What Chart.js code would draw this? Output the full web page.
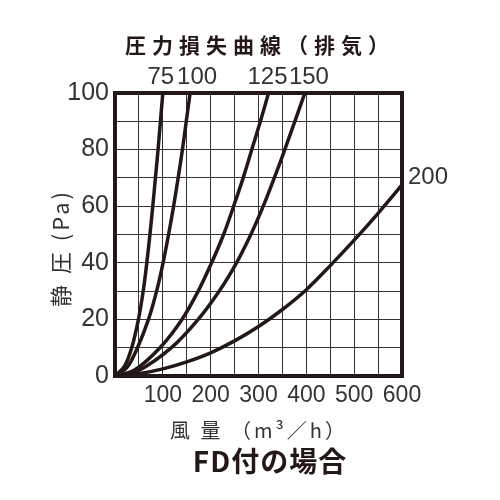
<!DOCTYPE html>
<html>
<head>
<meta charset="utf-8">
<script src="https://cdn.jsdelivr.net/npm/chart.js@4/dist/chart.umd.min.js"></script>
<style>
  html, body { margin: 0; padding: 0; background: #fff; }
  #wrap { width: 500px; height: 500px; }
</style>
</head>
<body>
<div id="wrap"><canvas id="myChart" width="500" height="500"></canvas></div>
<script>
// duct sizes (curve labels)
const ductSizes = ['75', '100', '125', '150', '200'];

// flow (m3/h) / static pressure (Pa)
const flow75  = [0, 20, 35, 49, 59, 66.5, 73, 79, 84.5, 90, 95, 100];
const pres75  = [0, 3.5, 10, 20, 30, 40, 50, 60, 70, 80, 90, 100];
const flow100 = [0, 25, 47, 70, 87, 100.5, 112, 122.5, 132, 141, 149, 157];
const pres100 = [0, 3, 10, 20, 30, 40, 50, 60, 70, 80, 90, 100];
const flow125 = [0, 40, 94, 140, 174, 202, 227, 248, 268, 286, 304, 321];
const pres125 = [0, 2, 10, 20, 30, 40, 50, 60, 70, 80, 90, 100];
const flow150 = [0, 50, 118, 174, 218, 254, 284, 310, 333, 355, 376, 397];
const pres150 = [0, 2, 10, 20, 30, 40, 50, 60, 70, 80, 90, 100];
const flow200 = [0, 50, 100, 150, 200, 250, 300, 350, 400, 450, 500, 550, 600];
const pres200 = [0, 0.8, 2.5, 5, 8.2, 12.4, 17.5, 23.5, 30.5, 39, 48, 57.5, 67.5];

const xTicks = [100, 200, 300, 400, 500, 600];
const yTicks = [0, 20, 40, 60, 80, 100];

const ink = '#231815';
const numFont = '"Liberation Sans", Arial, sans-serif';
const jpFont = '"Noto Sans CJK JP", sans-serif';

function pts(xs, ys) {
  return xs.map((x, i) => ({ x: x, y: ys[i] }));
}

const series = [
  pts(flow75, pres75),
  pts(flow100, pres100),
  pts(flow125, pres125),
  pts(flow150, pres150),
  pts(flow200, pres200)
];

// label placement relative to each curve's last point
const labelOffsets = [
  { dx: -2, dy: -16, align: 'center' },
  { dx: 7, dy: -16, align: 'center' },
  { dx: -1, dy: -16, align: 'center' },
  { dx: 4, dy: -16, align: 'center' },
  { dx: 6, dy: -8, align: 'left' }
];

const textPlugin = {
  id: 'texts',
  afterDraw(chart) {
    const ctx = chart.ctx;
    const a = chart.chartArea;
    ctx.save();

    // frame
    ctx.strokeStyle = ink;
    ctx.lineWidth = 4;
    ctx.strokeRect(a.left, a.top, a.right - a.left, a.bottom - a.top);

    // curve labels
    ctx.fillStyle = '#333';
    ctx.font = '24px ' + numFont;
    ctx.textBaseline = 'middle';
    chart.data.datasets.forEach((ds, i) => {
      const meta = chart.getDatasetMeta(i);
      const p = meta.data[meta.data.length - 1];
      const o = labelOffsets[i];
      ctx.textAlign = o.align;
      ctx.fillText(ds.label, p.x + o.dx, p.y + o.dy);
    });

    // title
    ctx.fillStyle = ink;
    ctx.textAlign = 'center';
    ctx.font = 'bold 21px ' + jpFont;
    ctx.letterSpacing = '6px';
    ctx.fillText('圧力損失曲線（排気）', 260, 45);

    // x axis title
    ctx.fillStyle = '#333';
    ctx.font = '20px ' + jpFont;
    ctx.letterSpacing = '3px';
    ctx.fillText('風 量 （m³／h）', 259, 430);

    // note
    ctx.fillStyle = ink;
    ctx.font = 'bold 28px ' + jpFont;
    ctx.letterSpacing = '1px';
    ctx.fillText('FD付の場合', 270, 461);

    // y axis title
    ctx.translate(61, 248);
    ctx.rotate(-Math.PI / 2);
    ctx.fillStyle = '#333';
    ctx.font = '22px ' + jpFont;
    ctx.letterSpacing = '3px';
    ctx.fillText('静 圧 (Pa)', 0, 0);

    ctx.restore();
  }
};

const ctx = document.getElementById('myChart').getContext('2d');

const chartData = {
  type: 'scatter',
  data: {
    datasets: series.map((s, i) => ({
      label: ductSizes[i],
      data: s,
      showLine: true,
      borderColor: ink,
      borderWidth: 3.5,
      pointRadius: 0,
      tension: 0.35,
      clip: false
    }))
  },
  options: {
    responsive: false,
    animation: false,
    layout: { padding: { left: 55, top: 93, right: 98, bottom: 84 } },
    plugins: {
      legend: { display: false },
      tooltip: { enabled: false }
    },
    scales: {
      x: {
        type: 'linear',
        min: 0,
        max: 600,
        afterFit: s => { s.height = 40; },
        border: { display: false },
        grid: { color: '#333', lineWidth: 1, drawTicks: false },
        ticks: {
          stepSize: 50,
          autoSkip: false,
          maxRotation: 0,
          padding: 6,
          color: '#333',
          font: { family: numFont, size: 23 },
          callback: v => xTicks.includes(v) ? String(v) : ''
        }
      },
      y: {
        type: 'linear',
        min: 0,
        max: 100,
        afterFit: s => { s.width = 60; },
        border: { display: false },
        grid: { color: '#333', lineWidth: 1, drawTicks: false },
        ticks: {
          stepSize: 10,
          autoSkip: false,
          padding: 6,
          color: '#333',
          font: { family: numFont, size: 25 },
          callback: v => yTicks.includes(v) ? String(v) : ''
        }
      }
    }
  },
  plugins: [textPlugin]
};

const myChart = new Chart(ctx, chartData);
</script>
</body>
</html>
